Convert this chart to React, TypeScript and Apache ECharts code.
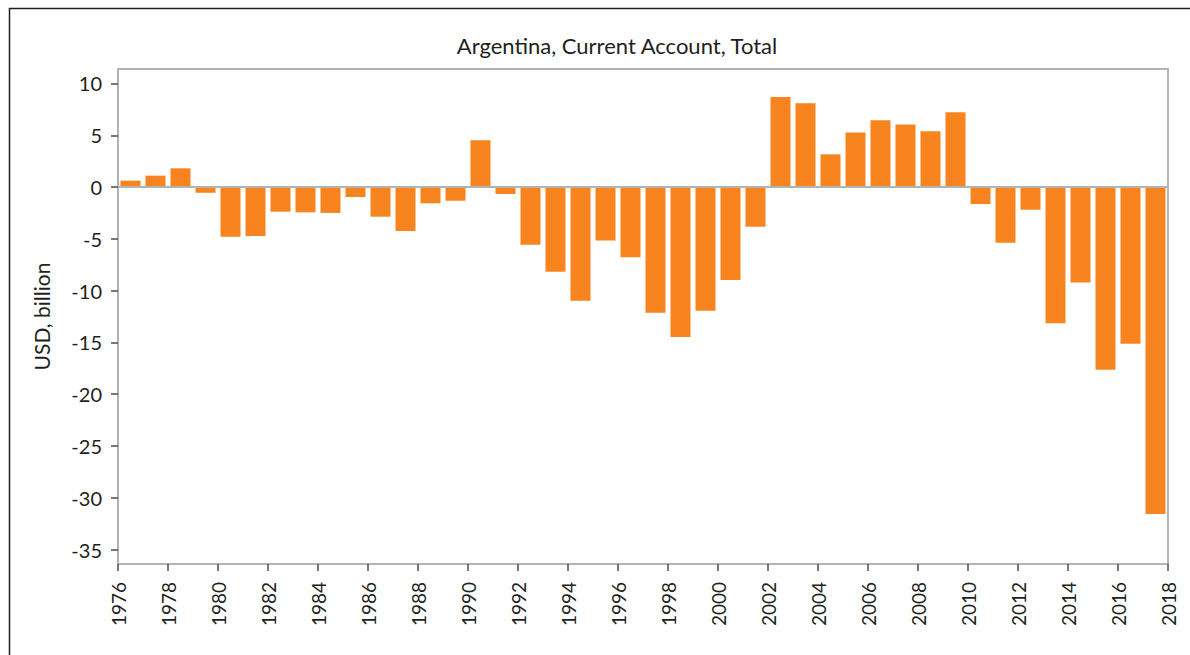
import React, { useEffect, useRef } from "react";
import * as echarts from "echarts";

const years: number[] = [
  1976, 1977, 1978, 1979, 1980, 1981, 1982, 1983, 1984, 1985, 1986, 1987, 1988, 1989,
  1990, 1991, 1992, 1993, 1994, 1995, 1996, 1997, 1998, 1999, 2000, 2001, 2002, 2003,
  2004, 2005, 2006, 2007, 2008, 2009, 2010, 2011, 2012, 2013, 2014, 2015, 2016, 2017,
];
const currentAccount: number[] = [
  0.62, 1.1, 1.81, -0.55, -4.8, -4.73, -2.38, -2.44, -2.5, -0.96, -2.86, -4.25, -1.57, -1.32,
  4.51, -0.67, -5.57, -8.18, -10.98, -5.15, -6.79, -12.14, -14.49, -11.94, -8.98, -3.83, 8.7, 8.09,
  3.16, 5.26, 6.44, 6.03, 5.38, 7.22, -1.64, -5.38, -2.19, -13.14, -9.21, -17.65, -15.13, -31.57,
];
const yTicks: number[] = [10, 5, 0, -5, -10, -15, -20, -25, -30, -35];

const FONT = "Lato, 'Open Sans', sans-serif";

export default function App() {
  const ref = useRef<HTMLDivElement>(null);
  useEffect(() => {
    if (!ref.current) return;
    const chart = echarts.init(ref.current, undefined, { renderer: "svg" });
    chart.setOption({
      animation: false,
      backgroundColor: "#ffffff",
      title: {
        text: "Argentina, Current Account, Total",
        left: 612,
        top: 29,
        textAlign: "center",
        textStyle: { fontFamily: FONT, fontSize: 22, fontWeight: "normal", color: "#231f20" },
      },
      graphic: [
        {
          type: "rect",
          shape: { x: 9.5, y: 8.5, width: 1200, height: 700 },
          style: { fill: "none", stroke: "#231f20", lineWidth: 1.5 },
          silent: true,
        },
      ],
      grid: {
        left: 118,
        right: 22,
        top: 69,
        bottom: 91,
        show: true,
        borderColor: "#b3b3b3",
        borderWidth: 2,
      },
      xAxis: {
        type: "value",
        min: 1976,
        max: 2018,
        interval: 2,
        axisLine: { show: true, onZero: false, lineStyle: { color: "#b3b3b3", width: 2 } },
        axisTick: { show: true, length: 7, lineStyle: { color: "#4d4d4d", width: 1.5 } },
        axisLabel: {
          rotate: 90,
          margin: 18,
          fontFamily: FONT,
          fontSize: 19,
          color: "#231f20",
          formatter: (v: number) => String(v),
        },
        splitLine: { show: false },
      },
      yAxis: {
        type: "value",
        min: -36.4,
        max: 11.4,
        name: "USD, billion",
        nameLocation: "middle",
        nameGap: 66,
        nameRotate: 90,
        nameTextStyle: { fontFamily: FONT, fontSize: 21, color: "#231f20" },
        axisLine: { show: true, lineStyle: { color: "#b3b3b3", width: 2 } },
        axisTick: {
          show: true,
          length: 7,
          customValues: yTicks,
          lineStyle: { color: "#4d4d4d", width: 1.5 },
        },
        axisLabel: {
          customValues: yTicks,
          margin: 16,
          fontFamily: FONT,
          fontSize: 20,
          color: "#231f20",
        },
        splitLine: { show: false },
      },
      series: [
        {
          type: "bar",
          barWidth: 20,
          itemStyle: { color: "#f7841f" },
          data: years.map((y, i) => [y + 0.5, currentAccount[i]]),
          markLine: {
            silent: true,
            symbol: "none",
            label: { show: false },
            lineStyle: { color: "#b3b3b3", width: 2, type: "solid" },
            data: [{ yAxis: 0 }],
          },
        },
      ],
    });
    return () => chart.dispose();
  }, []);
  return (
    <div
      ref={ref}
      style={{ position: "absolute", left: 0, top: 0, width: 1190, height: 655 }}
    />
  );
}
